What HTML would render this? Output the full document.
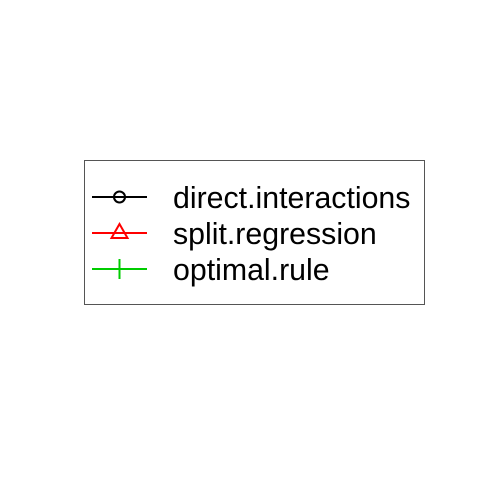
<!DOCTYPE html><html><head><style>body{margin:0;background:#fff}</style></head><body>
<svg width="480" height="480" xmlns="http://www.w3.org/2000/svg">
<rect x="84.5" y="160.5" width="340" height="144" fill="none" stroke="#555" stroke-width="1"/>
<g stroke-width="2" fill="none">
<line x1="92" y1="197" x2="147" y2="197" stroke="#000"/>
<circle cx="119.5" cy="197" r="5.5" stroke="#000"/>
<line x1="92" y1="233" x2="147" y2="233" stroke="#f00"/>
<polygon points="119.5,224 111.5,238 127.5,238" stroke="#f00"/>
<line x1="92" y1="269" x2="147" y2="269" stroke="#0c0"/>
<line x1="119.5" y1="259" x2="119.5" y2="279" stroke="#0c0"/>
</g>
<g font-family="Liberation Sans, sans-serif" font-size="30.3" fill="#000">
<text x="173" y="208">direct.interactions</text>
<text x="173" y="244">split.regression</text>
<text x="173" y="280">optimal.rule</text>
</g>
</svg></body></html>
